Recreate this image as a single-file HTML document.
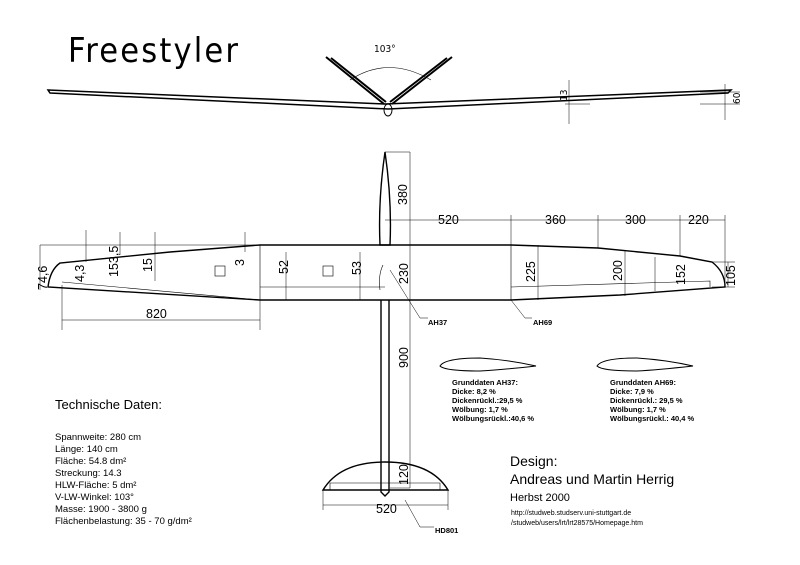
<!DOCTYPE html>
<html><head><meta charset="utf-8"><style>
html,body{margin:0;padding:0;background:#fff}
svg{display:block}
text{font-family:"Liberation Sans",sans-serif;fill:#000}
.d{font-family:"DejaVu Sans Condensed","DejaVu Sans",sans-serif;font-size:12.5px}
.s{font-family:"DejaVu Sans Condensed","DejaVu Sans",sans-serif;font-size:7.5px;font-weight:bold}
</style></head><body>
<svg width="800" height="565" viewBox="0 0 800 565" xmlns="http://www.w3.org/2000/svg">
<text x="68" y="62" font-size="34" style="font-family:'DejaVu Sans Condensed','Liberation Sans',sans-serif;font-weight:300" textLength="170">Freestyler</text>
<!-- front view -->
<g fill="none" stroke="#000">
<path d="M48,90 L385,104 L731,90 L728,93 L388,109 L50,93z" stroke-width="1.5"/>
<path d="M326,57 L384,104 M331,58 L386,102" stroke-width="2"/>
<path d="M452,57 L392,104 M447,58 L390,102" stroke-width="2"/>
<ellipse cx="388" cy="110" rx="4" ry="6" stroke-width="1"/>
<path d="M350,80 Q388,55 431,80" stroke-width="0.6"/>
<path d="M569,80 V124 M725,84 V120 M700,92 H740 M565,104 H590 M700,104 H740" stroke-width="0.5"/>
</g>
<text x="374" y="52" class="d" style="font-size:10px">103°</text>
<text class="d" transform="translate(567,101) rotate(-90)" style="font-size:10px">13</text>
<text class="d" transform="translate(740,104) rotate(-90)" style="font-size:10px">60</text>
<!-- top view -->
<g fill="none" stroke="#000" stroke-width="1.4">
<path d="M385,245 H260 L170,252 L60,263 Q50,270 48,287 L260,300 H385"/>
<path d="M385,245 H511 L598,248 L680,256 L712,262 Q725,272 725,287 L620,295 L511,300 H385"/>
<path d="M385,152 Q378,200 380,245 H390 Q392,200 385,152z"/>
<path d="M381,300 V492 L385,496 L389,492 V300"/>
<path d="M323,490 Q340,462 385,462 Q431,462 448,490z"/>
</g>
<g fill="none" stroke="#000" stroke-width="0.6">
<path d="M62,282 L260,300 M260,245 V300 M260,287 H385 M511,245 V300 M511,287 L710,281 V287 M330,490 V483 L440,483 V490"/>
<rect x="215" y="266" width="10" height="10"/><rect x="323" y="266" width="10" height="10"/>
<path d="M383,265 Q378,275 380,290"/>
</g>
<g fill="none" stroke="#000" stroke-width="0.5">
<path d="M40,245 H260 M40,245 V290 M62,285 V330 M260,300 V330 M62,320 H260" />
<path d="M385,152 H410 M410,152 V245 M410,245 V300 M410,300 V488 M390,488 H410 M323,490 V510 M448,490 V510 M323,505 H448"/>
<path d="M511,215 V245 M598,215 V248 M680,215 V256 M725,215 V287 M385,220 H725"/>
<path d="M86,230 V262 M155,232 V281 M120,232 V255 M245,232 V252 M286,252 V300 M360,252 V300 M538,245 V300 M625,250 V296 M655,257 V291 M712,262 H735 M712,287 H735 M728,262 V287"/>
<path d="M390,270 L420,318 H428 M511,300 L525,318 H532 M405,500 L420,527 H434"/>
</g>
<g class="d">
<text transform="translate(47,290) rotate(-90)">74,6</text>
<text transform="translate(84,282) rotate(-90)">4,3</text>
<text transform="translate(118,277) rotate(-90)">153,5</text>
<text transform="translate(152,272) rotate(-90)">15</text>
<text transform="translate(244,266) rotate(-90)">3</text>
<text transform="translate(288,274) rotate(-90)">52</text>
<text transform="translate(361,275) rotate(-90)">53</text>
<text x="146" y="318">820</text>
<text transform="translate(407,205) rotate(-90)">380</text>
<text transform="translate(408,284) rotate(-90)">230</text>
<text transform="translate(535,282) rotate(-90)">225</text>
<text transform="translate(622,281) rotate(-90)">200</text>
<text transform="translate(685,285) rotate(-90)">152</text>
<text transform="translate(735,286) rotate(-90)">105</text>
<text x="438" y="224">520</text>
<text x="545" y="224">360</text>
<text x="625" y="224">300</text>
<text x="688" y="224">220</text>
<text transform="translate(408,368) rotate(-90)">900</text>
<text transform="translate(408,485) rotate(-90)">120</text>
<text x="376" y="513">520</text>
</g>
<g class="s"><text x="428" y="325">AH37</text><text x="533" y="325">AH69</text><text x="435" y="533">HD801</text></g>
<g fill="none" stroke="#000" stroke-width="1">
<path d="M440,366 Q445,358 480,358 Q510,360 536,366 Q500,370 480,371 Q445,371 440,366z"/>
<path d="M597,366 Q602,358 637,358 Q667,360 693,366 Q657,370 637,371 Q602,371 597,366z"/>
</g>
<g class="s"><text x="452" y="385">Grunddaten AH37:</text><text x="452" y="394">Dicke: 8,2 %</text><text x="452" y="403">Dickenrückl.:29,5 %</text><text x="452" y="412">Wölbung: 1,7 %</text><text x="452" y="421">Wölbungsrückl.:40,6 %</text>
<text x="610" y="385">Grunddaten AH69:</text><text x="610" y="394">Dicke: 7,9 %</text><text x="610" y="403">Dickenrückl.: 29,5 %</text><text x="610" y="412">Wölbung: 1,7 %</text><text x="610" y="421">Wölbungsrückl.: 40,4 %</text></g>
<text x="55" y="409" font-size="13">Technische Daten:</text>
<g font-size="9.5"><text x="55" y="440">Spannweite: 280 cm</text><text x="55" y="452">Länge: 140 cm</text><text x="55" y="464">Fläche: 54.8 dm²</text><text x="55" y="476">Streckung: 14.3</text><text x="55" y="488">HLW-Fläche: 5 dm²</text><text x="55" y="500">V-LW-Winkel: 103°</text><text x="55" y="512">Masse: 1900 - 3800 g</text><text x="55" y="524">Flächenbelastung: 35 - 70 g/dm²</text></g>
<text x="510" y="466" font-size="14">Design:</text>
<text x="510" y="484" font-size="14">Andreas und Martin Herrig</text>
<text x="510" y="501" font-size="11">Herbst 2000</text>
<text x="511" y="515" font-size="7">http://studweb.studserv.uni-stuttgart.de</text>
<text x="511" y="525" font-size="7">/studweb/users/lrt/lrt28575/Homepage.htm</text>
</svg>
</body></html>
